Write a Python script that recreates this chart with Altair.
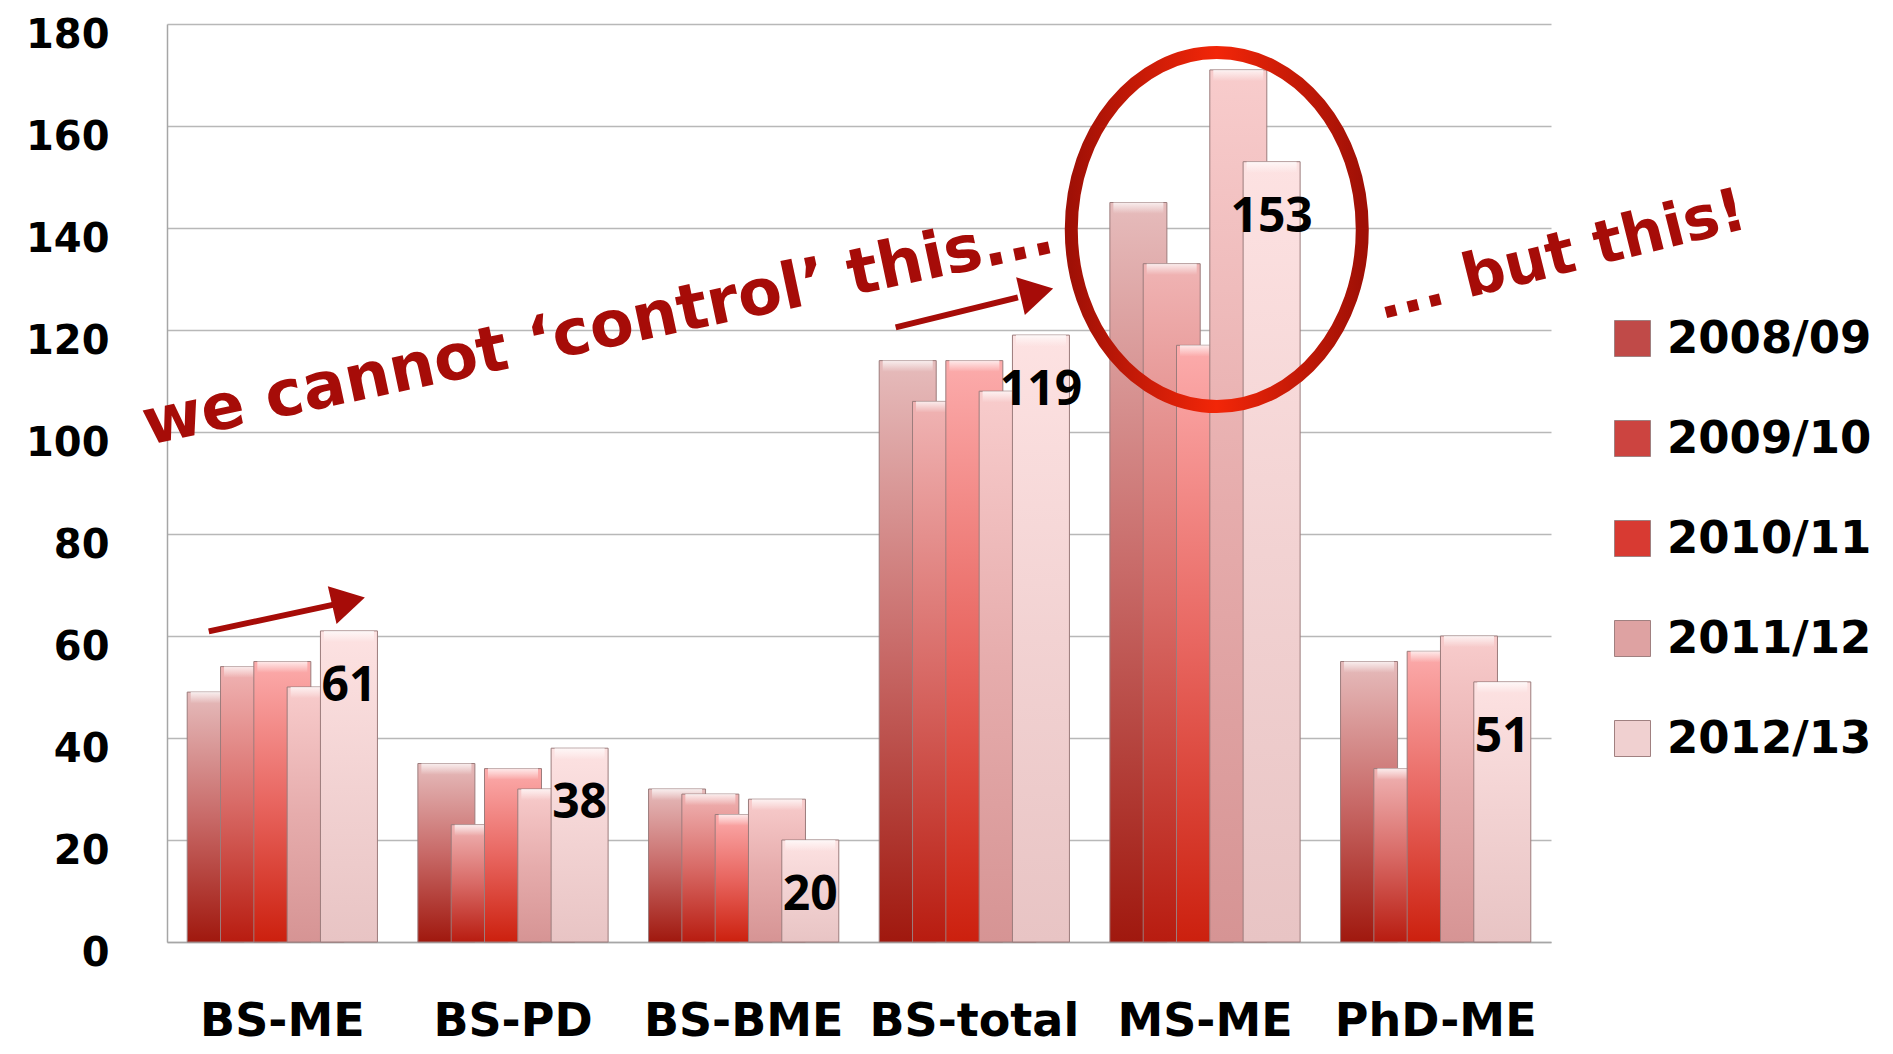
import altair as alt
import pandas as pd

# ---------------- data ----------------
categories = ["BS-ME", "BS-PD", "BS-BME", "BS-total", "MS-ME", "PhD-ME"]
series = ["2008/09", "2009/10", "2010/11", "2011/12", "2012/13"]
v_2008_09 = [49, 35, 30, 114, 145, 55]
v_2009_10 = [54, 23, 29, 106, 133, 34]
v_2010_11 = [55, 34, 25, 114, 117, 57]
v_2011_12 = [50, 30, 28, 108, 171, 60]
v_2012_13 = [61, 38, 20, 119, 153, 51]
y_ticks = [0, 20, 40, 60, 80, 100, 120, 140, 160, 180]

# annotations (in data units: x = category index units 0..6, y = value units)
note_text = ["we cannot \u2018control\u2019 this...", "... but this!"]
note_x = [1.87, 6.043]
note_y = [120.0, 134.5]
arrow_x = [0.181, 3.159]
arrow_x2 = [0.728, 3.689]
arrow_y = [60.9, 120.5]
arrow_y2 = [66.2, 126.4]
head_x = [0.787, 3.771]
head_y = [66.8, 127.4]
ring_x = [4.551]
ring_y = [139.7]

all_values = [v_2008_09, v_2009_10, v_2010_11, v_2011_12, v_2012_13]
rows = []
for s, vals in zip(series, all_values):
    for c, v in zip(categories, vals):
        rows.append({"cat": c, "year": s, "value": v})
df = pd.DataFrame(rows)

notes1 = pd.DataFrame({"ax": note_x[:1], "value": note_y[:1], "t": note_text[:1]})
notes2 = pd.DataFrame({"ax": note_x[1:], "value": note_y[1:], "t": note_text[1:]})
arrows = pd.DataFrame({"ax": arrow_x, "ax2": arrow_x2, "value": arrow_y, "ay2": arrow_y2})
heads = pd.DataFrame({"ax": head_x, "value": head_y})
ring = pd.DataFrame({"ax": ring_x, "value": ring_y})

# ---------------- styles ----------------
W, H = 1384, 918
BOLD = "DejaVu Sans"
grad_stops = {
    "2008/09": ["#a0180e", "#c86a68", "#e6bcbc"],
    "2009/10": ["#b81c10", "#d86a66", "#f0b4b4"],
    "2010/11": ["#cc200e", "#e86660", "#fcacac"],
    "2011/12": ["#d69494", "#e6acac", "#f8cccc"],
    "2012/13": ["#e8c4c4", "#f2d2d2", "#fde2e2"],
}
legend_colors = ["#c04a48", "#cc4440", "#d83a32", "#dea2a2", "#f0d0d0"]
ANN = "#a60c08"

yaxis = alt.Axis(title=None, values=y_ticks, ticks=False, labelPadding=58,
                 labelOffset=11, labelFontSize=40, labelFont=BOLD,
                 labelFontWeight="bold", labelColor="black",
                 grid=True, gridColor="#b8b8b8", gridWidth=1.5,
                 domainColor="#a6a6a6", domainWidth=1.5)
yscale = alt.Scale(domain=[0, 180], nice=False)
yenc = alt.Y("value:Q", scale=yscale, axis=yaxis)
xcat = alt.X("cat:N", sort=categories,
             scale=alt.Scale(domain=categories, paddingInner=0.278, paddingOuter=0.139),
             axis=alt.Axis(title=None, labelAngle=0, ticks=False, labelPadding=57,
                           labelFontSize=46, labelFont=BOLD, labelFontWeight="bold",
                           labelColor="black", labelLimit=400, grid=False,
                           domainColor="#a6a6a6", domainWidth=1.5))
xoff = alt.XOffset("year:N", sort=series,
                   scale=alt.Scale(domain=series, paddingInner=0, paddingOuter=0))


def grad(cols):
    return alt.LinearGradient(
        gradient="linear", x1=0, x2=0, y1=1, y2=0,
        stops=[alt.GradientStop(color=cols[0], offset=0),
               alt.GradientStop(color=cols[1], offset=0.5),
               alt.GradientStop(color=cols[2], offset=1)])


shine = alt.LinearGradient(
    gradient="linear", x1=0, x2=0, y1=1, y2=0,
    stops=[alt.GradientStop(color="rgba(255,255,255,0)", offset=0),
           alt.GradientStop(color="rgba(255,255,255,0.75)", offset=1)])

bar_layers = []
for s in series:
    base = alt.Chart(df).transform_filter(alt.datum.year == s)
    bar_layers.append(
        base.mark_bar(width=57, color=grad(grad_stops[s]), stroke="#9c7c7c", strokeWidth=1)
        .encode(x=xcat, xOffset=xoff, y=yenc)
    )
    bar_layers.append(
        base.transform_calculate(top2="datum.value - 2.2")
        .mark_bar(width=50, color=shine)
        .encode(x=xcat, xOffset=xoff, y=yenc, y2="top2:Q")
    )

legend_layer = alt.Chart(df).mark_square(opacity=0).encode(
    x=xcat, xOffset=xoff, y=yenc,
    color=alt.Color("year:N", sort=series,
                    scale=alt.Scale(domain=series, range=legend_colors),
                    legend=alt.Legend(title=None, orient="none", legendX=1443, legendY=292,
                                      symbolType="square", symbolSize=1296, symbolOpacity=1,
                                      symbolStrokeColor="#a08080", symbolStrokeWidth=1,
                                      labelFontSize=45, labelFont=BOLD, labelFontWeight="bold",
                                      labelColor="black", labelOffset=12, rowPadding=54,
                                      labelLimit=400)))

value_labels = alt.Chart(df).transform_filter(alt.datum.year == series[-1]).mark_text(
    font="Open Sans", fontWeight="bold", fontSize=48, color="black",
    baseline="middle", align="center", dy=56
).encode(x=xcat, xOffset=xoff, y=yenc, text=alt.Text("value:Q"))

bars_group = alt.layer(*bar_layers, legend_layer, value_labels)

ax = alt.X("ax:Q", scale=alt.Scale(domain=[0, 6], nice=False, zero=False), axis=None)
ay = alt.Y("value:Q", scale=yscale, axis=yaxis)

shafts = alt.Chart(arrows).mark_rule(color=ANN, strokeWidth=6).encode(
    x=ax, x2="ax2:Q", y=ay, y2="ay2:Q")
tips = alt.Chart(heads).mark_point(shape="triangle-right", filled=True, size=1500,
                                   color=ANN, opacity=1, angle=347).encode(x=ax, y=ay)
ellipse_path = "M -0.822 0 A 0.822 1 0 1 0 0.822 0 A 0.822 1 0 1 0 -0.822 0 Z"
ring_stroke = alt.LinearGradient(
    gradient="linear", x1=0, x2=1, y1=0, y2=0,
    stops=[alt.GradientStop(color="#a01006", offset=0),
           alt.GradientStop(color="#f22608", offset=0.5),
           alt.GradientStop(color="#a01006", offset=1)])
ring_layer = alt.Chart(ring).mark_point(shape=ellipse_path, size=125316, filled=False,
                                        strokeWidth=13, stroke=ring_stroke,
                                        opacity=1).encode(x=ax, y=ay)
text1 = alt.Chart(notes1).mark_text(font=BOLD, fontWeight="bold", fontSize=64, color=ANN,
                                    angle=348, align="center", baseline="middle").encode(
    x=ax, y=ay, text="t:N")
text2 = alt.Chart(notes2).mark_text(font=BOLD, fontWeight="bold", fontSize=60, color=ANN,
                                    angle=346, align="center", baseline="middle").encode(
    x=ax, y=ay, text="t:N")

ann_group = alt.layer(shafts, tips, ring_layer, text1, text2)

chart = alt.layer(bars_group, ann_group).resolve_scale(x="independent").properties(
    width=W, height=H,
    background="white",
    autosize=alt.AutoSizeParams(type="none"),
    padding={"left": 159, "top": 16, "right": 334, "bottom": 104},
).configure_view(strokeWidth=0, stroke="transparent")

chart.save("out.html", embed_options={"renderer": "svg", "actions": False})
